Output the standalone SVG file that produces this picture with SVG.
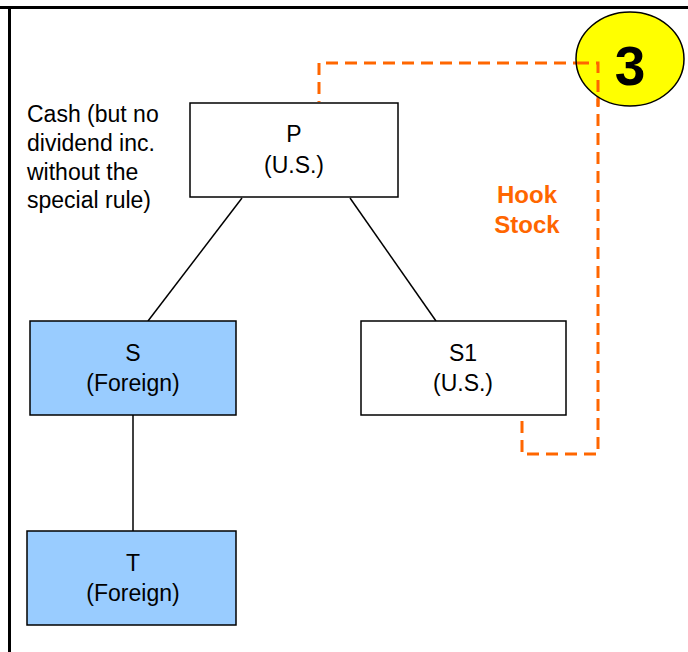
<svg xmlns="http://www.w3.org/2000/svg" width="688" height="652" viewBox="0 0 688 652">
<style>
text{font-family:"Liberation Sans",Arial,sans-serif;font-size:23px;fill:#000}
.c{text-anchor:middle}
.box{stroke:#000;stroke-width:1.5}
.w{fill:#fff}
.b{fill:#99CCFF}
.ln{stroke:#000;stroke-width:1.5;fill:none}
.hook{stroke:#FF6600;stroke-width:3;stroke-dasharray:12 7;fill:none}
.or{fill:#FF6600;font-weight:bold;font-size:24px}
</style>
<rect width="688" height="652" fill="#fff"/>
<line x1="0" y1="7.5" x2="688" y2="7.5" stroke="#000" stroke-width="3"/>
<line x1="9.5" y1="9" x2="9.5" y2="652" stroke="#000" stroke-width="3"/>
<g id="connectors">
<line class="ln" x1="242" y1="198" x2="148" y2="321"/>
<line class="ln" x1="350" y1="198" x2="436" y2="321"/>
<line class="ln" x1="133" y1="415" x2="133" y2="531"/>
<polyline class="hook" points="522,421 522,454 598,454 598,63 319,63 319,102"/>
</g>
<g id="P"><rect class="box w" x="190" y="103" width="208" height="94"/><text class="c" x="294" y="142">P</text><text class="c" x="294" y="173">(U.S.)</text></g>
<g id="S"><rect class="box b" x="30" y="321" width="206" height="94"/><text class="c" x="133" y="361">S</text><text class="c" x="133" y="391">(Foreign)</text></g>
<g id="S1"><rect class="box w" x="361" y="321" width="205" height="94"/><text class="c" x="463" y="361">S1</text><text class="c" x="463" y="391">(U.S.)</text></g>
<g id="T"><rect class="box b" x="27" y="531" width="209" height="94"/><text class="c" x="133" y="571">T</text><text class="c" x="133" y="601">(Foreign)</text></g>
<g id="cash"><text x="27" y="122">Cash (but no</text><text x="27" y="151">dividend inc.</text><text x="27" y="180">without the</text><text x="27" y="208">special rule)</text></g>
<g id="hooklabel"><text class="c or" x="527" y="203">Hook</text><text class="c or" x="527" y="233">Stock</text></g>
<g id="badge"><ellipse cx="630" cy="59" rx="54" ry="47" fill="#FFFF00" stroke="#000" stroke-width="1.5"/><polyline class="hook" points="577,63 598,63 598,106"/><text class="c" x="630" y="85" style="font-size:55px;font-weight:bold">3</text></g>
</svg>
